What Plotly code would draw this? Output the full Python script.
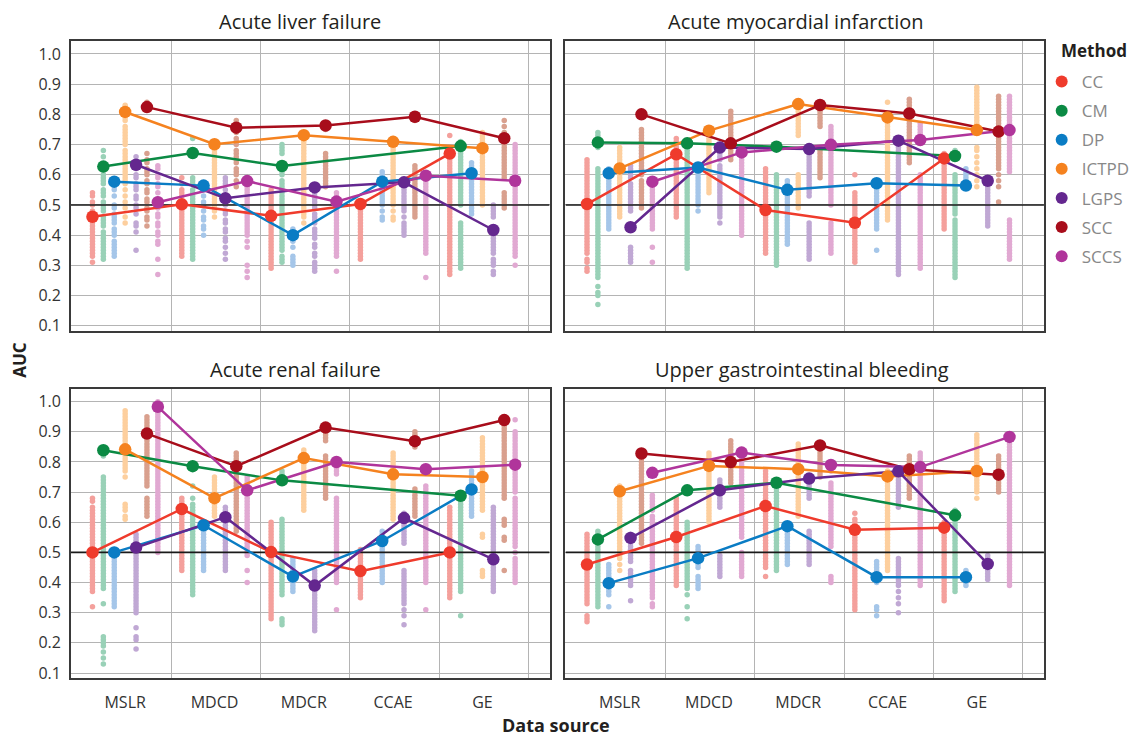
import plotly.graph_objects as go

# ---------------- data ----------------
sources = ["MSLR", "MDCD", "MDCR", "CCAE", "GE"]
methods = ["CC", "CM", "DP", "ICTPD", "LGPS", "SCC", "SCCS"]
panel_titles = ["Acute liver failure", "Acute myocardial infarction",
                "Acute renal failure", "Upper gastrointestinal bleeding"]
y_ticks = [0.1, 0.2, 0.3, 0.4, 0.5, 0.6, 0.7, 0.8, 0.9, 1.0]
y_tick_labels = ["0.1", "0.2", "0.3", "0.4", "0.5", "0.6", "0.7", "0.8", "0.9", "1.0"]

# best (large marker) AUC per method, per data source (None = not available)
best_alf = {
    "CC": [0.461, 0.502, 0.464, 0.503, 0.670],
    "CM": [0.627, 0.672, 0.629, None, 0.695],
    "DP": [0.577, 0.564, 0.400, 0.577, 0.605],
    "ICTPD": [0.808, 0.701, 0.731, 0.709, 0.688],
    "LGPS": [0.633, 0.522, 0.558, 0.575, 0.417],
    "SCC": [0.824, 0.756, 0.763, 0.792, 0.721],
    "SCCS": [0.509, 0.579, 0.511, 0.597, 0.580],
}
best_ami = {
    "CC": [0.503, 0.668, 0.483, 0.441, 0.654],
    "CM": [0.707, 0.704, 0.693, None, 0.662],
    "DP": [0.605, 0.624, 0.550, 0.572, 0.564],
    "ICTPD": [0.621, 0.746, 0.834, 0.790, 0.748],
    "LGPS": [0.426, 0.690, 0.685, 0.713, 0.580],
    "SCC": [0.800, 0.704, 0.831, 0.803, 0.743],
    "SCCS": [0.577, 0.674, 0.699, 0.715, 0.748],
}
best_arf = {
    "CC": [0.500, 0.644, 0.501, 0.438, 0.500],
    "CM": [0.839, 0.786, 0.739, None, 0.688],
    "DP": [0.500, 0.590, 0.420, 0.538, 0.709],
    "ICTPD": [0.842, 0.680, 0.813, 0.759, 0.750],
    "LGPS": [0.516, 0.617, 0.390, 0.614, 0.477],
    "SCC": [0.894, 0.786, 0.914, 0.869, 0.939],
    "SCCS": [0.983, 0.706, 0.800, 0.776, 0.791],
}
best_ugib = {
    "CC": [0.460, 0.551, 0.654, 0.575, 0.582],
    "CM": [0.543, 0.706, 0.731, None, 0.623],
    "DP": [0.398, 0.481, 0.587, 0.418, 0.418],
    "ICTPD": [0.703, 0.787, 0.776, 0.752, 0.770],
    "LGPS": [0.548, 0.706, 0.745, 0.769, 0.462],
    "SCC": [0.828, 0.800, 0.855, 0.776, 0.758],
    "SCCS": [0.764, 0.831, 0.790, 0.783, 0.883],
}

# individual analysis AUCs (x100), per method, one list per data source
dots_alf = {
    "CC": [[54,53,51,50,48,47,46,45,44,43,42,41,40,39,38,37,36,35,34,33,31],
           [59,57,55,54,53,51,50,49,48,47,46,45,44,43,42,41,40,39,38,37,36,35,34,33],
           [55,54,53,52,51,50,49,48,47,46,45,44,43,42,41,40,39,38,37,36,35,34,33,32,31,30,29],
           [50,49,48,47,46,45,44,43,42,41,40,39,38,37,36,35,34,33,32],
           [73,68,67,66,65,64,63,62,61,60,59,58,57,56,55,54,53,52,51,50,49,48,47,46,45,44,43,42,41,40,39,38,37,36,35,34,33,32,31,30,29,28,27]],
    "CM": [[68,66,63,62,60,59,58,57,55,54,53,51,50,49,48,46,45,44,43,41,40,39,38,37,36,35,34,33,32],
           [72,59,58,57,55,54,53,52,51,50,49,48,47,46,45,44,43,42,41,40,39,38,37,36,35,34,33,32],
           [70,69,68,67,61,60,58,57,56,55,54,53,52,51,50,49,48,47,46,45,44,43,42,41,40,39,38,37,36,35,33,32,31],
           [],
           [71,70,69,68,67,66,65,64,63,62,61,60,59,58,57,56,55,54,53,52,51,50,44,43,42,41,40,39,38,37,36,35,34,33,32,31,30,29]],
    "DP": [[58,57,56,55,53,50,49,47,46,45,44,42,41,40,38,37,36,35,34,33],
           [57,56,55,53,51,50,48,46,45,43,42,40],
           [42,41,40,39,38,36,33,32,31,30],
           [61,60,59,58,57,56,55,54,53,52,51,50,48,46,45],
           [64,63,62,61,60,59,58,57,56,55,54,53,52,51,50,49,48,47]],
    "ICTPD": [[83,82,80,79,78,76,75,74,73,72,71,70,68,67,66,65,64,63,62,61,60,59,58,57,55,53,51,49,46,44],
              [70,69,68,67,66,65,64,63,62,61,60,59,58,57,56,55,54,53,52,51,50,49,48,46],
              [74,73,72,71,70,69,68,67,66,65,64,63,62,61,60,59,58,57,56,55,54,53,52,51,50,49,48,47,46,44],
              [72,71,70,69,68,67,66,65,64,63,62,61,60,59,58,57,56,55,54,53,52,51,50,48,46,45],
              [74,73,72,71,70,69,68,67,66,65,64,63,62,61,60,59,58,57,56,55,54,53,52,51,50]],
    "LGPS": [[66,64,63,62,60,59,57,56,55,53,52,50,49,47,44,43,41,35],
             [59,58,57,55,53,52,51,50,48,47,45,44,42,41,39,38,36,34,32],
             [56,55,54,53,52,51,50,49,47,46,45,44,42,41,40,39,37,36,34,33,31,30,29,28],
             [58,57,56,55,54,53,52,51,50,49,48,46,44,43,42,41,40],
             [50,49,48,47,46,42,41,40,39,38,37,36,35,34,32,31,30,28,27]],
    "SCC": [[84,83,67,65,64,62,61,60,58,57,55,54,52,51,49,48,46,45,43],
            [78,77,74,72,71,70,68,67,66,65,64,62,61,60,58,56],
            [76,75,67,66,65,64,63,62,61,60,59,58,57,56],
            [80,79,78,63,62,61,60,59,58,57,56,55,54,53,52,51,50,49,48,47,46],
            [78,76,74,72,70,69,68,67,66,65,64,63,62,61,60,59,54,53,52,51,50,49]],
    "SCCS": [[63,62,60,59,57,56,54,52,50,49,47,46,44,43,41,40,38,37,32,27],
             [59,58,57,56,55,54,53,52,51,50,49,48,47,46,45,44,43,42,41,40,38,36,30,28,26],
             [54,53,52,51,50,49,48,47,46,45,44,43,42,41,40,39,38,37,36,35,34,33,28],
             [60,59,58,57,56,55,54,53,52,51,50,49,48,47,46,45,44,43,42,41,40,39,38,37,36,35,34,26],
             [70,69,68,67,66,65,64,63,62,61,60,59,58,57,56,55,54,53,52,51,50,49,48,47,46,45,44,43,42,41,40,39,38,37,36,35,34,33,30]],
}
dots_ami = {
    "CC": [[65,64,63,62,61,60,59,58,57,56,55,54,53,52,51,50,49,48,47,46,45,44,43,42,41,40,39,38,37,36,35,34,32,31,29,28],
           [72,71,70,69,68,67,66,65,64,63,62,61,60,59,58,57,56,55,54,53,52,51,50,49,48,47,46],
           [62,61,60,59,58,57,56,55,54,53,52,51,50,49,48,47,46,45,44,43,42,41,40,39,38,37,36,35,34],
           [60,54,53,52,51,50,49,48,47,46,45,44,43,42,41,40,39,38,37,36,35,34,33,32,31],
           [67,66,65,64,63,62,61,60,59,58,57,56,55,54,53,52,51,50,49,48,47,46,45,44,43,42]],
    "CM": [[74,73,71,70,69,62,61,60,59,58,57,56,55,54,53,52,51,50,49,48,47,46,45,44,43,42,41,40,39,38,37,36,35,34,33,32,31,30,29,28,27,26,23,21,20,17],
           [70,69,68,67,66,65,64,63,62,61,60,59,58,57,56,55,54,53,52,51,50,49,48,47,46,45,44,43,42,41,40,39,38,37,36,35,34,33,32,31,30,29],
           [60,59,58,57,56,55,54,53,52,51,50,49,48,47,46,45,44,43,42,41,40,39,38,37,36,35,34,33,32,31,30],
           [],
           [68,60,59,58,57,56,55,54,53,52,51,50,49,48,47,45,44,43,42,41,40,39,38,37,36,35,34,33,32,31,30,29,28,27,26]],
    "DP": [[62,61,60,59,58,57,56,55,54,53,52,51,50,49,48,47,46,45,44,43,42],
           [62,61,60,59,58,57,56,55,54,53,52,51,50,48],
           [58,57,56,55,54,53,52,51,50,49,48,47,46,45,44,43,42,41,40,39,38,37],
           [57,56,55,54,53,52,51,50,49,48,47,46,45,44,43,42,35],
           [62,61,60,59,58,57,56]],
    "ICTPD": [[69,68,67,66,65,64,63,62,61,60,59,58,57,56,55,54,53,52,51,50,49,48,47,46],
              [75,74,73,72,71,70,69,68,67,66,65,64,63,62,61,60,59,58,57,56,55,54],
              [83,82,81,80,79,78,77,76,75,74,73,60,59,58,57,56,55,54,53,52,51,50,49],
              [84,79,78,77,76,75,74,73,72,71,70,69,68,67,66,65,64,63,62,61,60,59,58,57,56,55,54,53,52,51,50,49,48,47,46,45],
              [89,88,87,86,85,84,83,82,81,80,79,78,77,76,75,69,68,66,64,62,60,58,56]],
    "LGPS": [[63,62,61,60,59,57,56,55,54,53,52,51,50,49,48,36,35,34,33,32,31],
             [69,68,67,66,65,63,62,61,60,59,58,57,56,55,54,53,52,51,50,49,48,47,46,44],
             [68,67,66,65,64,63,62,61,60,59,58,57,56,55,54,53,44,43,42,41,40,39,38,37,36,35,34,33,32],
             [71,70,69,68,67,66,65,64,63,62,61,60,59,58,57,56,55,54,53,52,51,50,49,48,47,46,45,44,43,42,41,40,39,38,37,36,35,34,33,32,31,30,29,28,27],
             [58,57,56,55,54,53,52,51,50,49,48,47,46,45,44,43]],
    "SCC": [[75,74,73,72,71,70,69,68,67,66,65,64,63,62,61,60,58,57,56,55,54,53,52,51,50,49],
            [81,80,79,78,77,76,75,74,73,72,71,70,69,68,67,66,65],
            [83,82,81,80,79,78,77,76,69,68,67,66,65,64,63,62,61,60,59],
            [85,84,83,82,81,80,79,78,77,76,75,74,73,72,71,70,69,68,67,66,65,64],
            [86,85,84,83,82,81,80,79,78,77,76,75,74,73,72,71,70,69,68,67,66,65,64,63,62,60,58,56,51]],
    "SCCS": [[58,57,56,55,54,53,52,51,50,49,48,47,46,45,44,43,42,36,31],
             [67,66,65,64,63,62,61,60,59,58,57,56,55,54,53,52,51,50,49,48,47,46,45,44,43,42,41,40],
             [76,75,74,73,72,71,70,69,68,67,66,65,64,63,62,61,60,59,58,57,56,55,54,53,52,51,50,44,43,42,41,40,39,38,37,36,35,34],
             [77,76,75,74,73,72,71,60,59,58,57,56,55,54,53,52,51,50,49,48,47,46,45,44,43,42,41,40,39,38,37,36,35,34,33,32,31,30,29],
             [86,85,84,83,82,81,80,79,78,77,76,75,74,73,72,71,70,69,68,67,66,65,64,63,62,61,45,44,43,42,41,40,39,38,37,36,35,34,33,32]],
}
dots_arf = {
    "CC": [[68,67,65,64,63,62,61,60,59,58,57,56,55,54,53,52,51,50,49,48,47,46,45,44,43,42,41,40,39,38,37,32],
           [68,67,66,65,64,63,62,61,60,59,58,57,56,55,54,53,52,51,50,49,48,47,46,45,44],
           [60,59,58,57,56,55,54,53,52,51,50,49,48,47,46,45,44,43,42,41,40,39,38,37,36,35,34,33,32,31,30,29,28],
           [51,50,49,48,47,46,45,44,43,42,41,40,39,38,37,36,35],
           [65,64,63,62,61,60,59,58,57,56,55,54,53,52,51,50,49,48,47,46,45,44,43,42,41,40,39,38,37,36,35]],
    "CM": [[84,83,82,75,74,73,72,71,70,69,68,67,66,65,64,63,62,61,60,59,58,57,56,55,54,53,52,51,50,49,48,47,46,45,44,43,42,41,40,39,38,33,22,21,20,19,17,15,13],
           [72,68,66,65,64,63,62,61,60,59,58,57,56,55,54,53,52,51,50,49,48,47,46,45,44,43,42,41,40,39,38,37,36],
           [77,76,75,74,73,61,60,59,58,57,56,55,54,53,52,51,50,49,48,47,46,45,44,43,42,41,40,39,38,37,36,28,27,26],
           [],
           [69,68,67,66,65,64,63,62,61,60,59,58,57,56,55,54,53,52,51,50,49,48,47,46,45,44,43,42,41,40,39,38,37,29]],
    "DP": [[51,50,49,48,47,46,45,44,43,42,41,40,39,38,37,36,35,34,33,32],
           [59,58,57,56,55,54,53,52,51,50,49,48,47,46,45,44],
           [48,47,46,45,44,43,42,41,40,39,38,37],
           [57,56,55,54,53,52,51,50,49,48,47,46,45,44,43,42,41,40],
           [77,76,75,74,73,72,71,70,69,68,67,66,65,64,63,62]],
    "ICTPD": [[97,96,95,94,93,92,91,90,89,88,87,86,85,84,83,82,81,80,79,78,77,75,66,65,64,62,61],
              [75,74,73,72,71,70,69,68,67,66,65,64,63,62],
              [84,83,82,81,80,79,78,77,76,75,74,73,72,71,70,69,68,67,66,65,64],
              [83,82,81,80,79,78,77,76,75,74,73,72,71,70,69,68,67,66,65,64,63,62,61],
              [88,87,86,85,84,83,82,81,80,79,78,77,76,75,74,73,72,71,70,69,68,67,66,65,64,56,55,44,43,42]],
    "LGPS": [[56,55,54,53,52,51,50,49,48,47,46,45,44,43,42,41,40,39,38,37,36,35,34,33,32,31,30,25,22,21,18],
             [65,64,63,62,61,60,59,58,57,56,55,54,53,52,51,50,49,48,47,46,45,44],
             [44,43,42,41,40,39,38,37,36,35,34,33,32,31,30,29,28,27,26,25,24],
             [63,62,61,60,59,58,57,56,55,54,53,44,43,42,41,40,39,38,37,36,35,34,33,31,29,26],
             [65,64,63,62,61,60,59,58,57,56,55,54,53,52,51,50,49,48,47,46,45,44,43,42,41,40,39,38,37]],
    "SCC": [[95,94,93,92,91,90,89,88,87,86,85,84,83,82,81,80,79,78,77,76,75,74,73,72,68,67,66,65,64,63,62],
            [83,82,81,80,79,78,77,76,75,74,73,72,71,70,69,68,67,66,65,64,63,62,61,60,59,58,57],
            [91,90,89,88,87,82,81,80,79,78,77,76,75,74,73,72,71,70,69,68],
            [90,89,88,87,86,85,71,70,69,68,67,66,65,64,63,62],
            [94,93,92,91,90,89,88,87,86,85,84,83,82,81,80,79,78,77,76,75,74,73,72,71,70,69,68,61,60,59,55,54,44]],
    "SCCS": [[100,99,98,97,96,95,94,93,92,91,90,89,88,87,86,85,84,83,82,81,80,79,78,77,76,75,74,73,72,71,70,69,68,67,66,65,64,63,62,61,60,59,58,57,56,55,54,53,52,51,50],
             [75,74,73,72,71,70,69,68,67,66,65,64,63,62,61,60,59,58,57,56,55,54,53,52,51,50,49,44,40],
             [80,79,78,77,76,68,67,66,65,64,63,62,61,60,59,58,57,56,55,54,53,52,51,50,49,48,47,46,45,44,43,42,41,40,31],
             [72,71,70,69,68,67,66,65,64,63,62,61,60,59,58,57,56,55,54,53,52,51,50,49,48,47,46,45,44,43,42,41,40,31],
             [94,90,89,88,87,86,85,84,83,82,81,80,79,78,77,76,75,74,73,72,71,70,68,67,66,65,64,63,62,61,60,59,58,57,56,55,54,53,52,50,48,47,46,45,44,43,42,41,40]],
}
dots_ugib = {
    "CC": [[56,55,54,53,52,51,50,49,48,47,46,45,44,43,42,41,40,39,38,37,36,35,34,33,29,28,27],
           [68,67,66,65,64,63,62,61,60,59,58,57,56,55,54,53,52,51,50,49,48,47,46,45,44,43,42,41,40,39],
           [77,76,75,74,73,72,71,70,69,68,67,66,65,64,63,62,61,60,59,58,57,56,55,54,53,52,51,50,49,48,47,46,45,42],
           [63,61,60,59,58,57,56,55,54,53,52,51,50,49,48,47,46,45,44,43,42,41,40,39,38,37,36,35,34,33,32,31],
           [60,59,58,57,56,55,54,53,52,51,50,49,48,47,46,45,44,43,42,41,40,39,38,37,36,35,34]],
    "CM": [[57,56,55,54,53,52,51,50,49,48,47,46,45,44,43,42,41,40,39,38,37,36,35,34,33,32],
           [60,59,58,57,56,55,54,53,52,51,50,49,48,47,46,45,44,43,42,41,40,39,38,36,32,28],
           [73,72,71,70,69,68,67,66,65,64,63,62,61,60,59,58,57,56,55,54,53,52,51,50,49,48,47,46,45,44],
           [],
           [64,63,62,61,60,59,58,57,56,55,54,53,52,51,50,49,48,47,46,45,44,43,42,41,40,39,38,37]],
    "DP": [[46,45,44,43,42,41,40,39,38,37,36,32],
           [52,51,50,49,48,47,46,45,42,41,40,39,38],
           [59,58,57,56,55,54,53,52,51,50,49,48,47,46],
           [47,46,45,44,43,42,41,40,32,31,29],
           [44,43,42,41,40,39]],
    "ICTPD": [[72,71,70,69,68,67,66,65,64,63,62,61,60,59,58,57,56,55,54,53,52,51,50,49,48,46,44],
              [83,82,81,80,79,78,77,76,75,74,73,72,71,70,69,68,67,66,65,64,63,62,61,60],
              [86,85,84,83,82,81,80,79,78,77,76,75,74,73,72,71,70,69,68,67,66,65,64,63,62],
              [77,76,75,74,73,72,71,70,69,68,67,66,65,64,63,62,61,60,59,58,57,56,55,54,53,52,51,50,49,48,47,46,45,44],
              [89,88,87,86,85,84,83,82,81,80,79,78,77,76,75,74,73,72,71,70,68]],
    "LGPS": [[56,55,54,53,52,51,50,49,48,47,44,43,42,41,40,39,34],
             [74,73,72,71,70,69,68,67,66,65,49,48,47,46,45,44,43,42],
             [74,73,72,71,70,69,68,57,56,55,54,53,52,51,50,49,48,47,46],
             [77,76,75,74,73,72,71,70,69,68,67,66,65,48,47,46,45,44,43,42,41,40,39,37,35,33,30],
             [49,48,47,46,45,44,43,42,41]],
    "SCC": [[83,82,81,80,79,78,77,76,75,74,73,72,71,70,69,68,67,66,65,64,63,62,61,60,59,58,57,56,55,54,53],
            [87,86,85,84,83,82,81,80,79,78,77,76,75,74,73],
            [86,85,84,83,82,81,80,79,78,77,76,75],
            [82,81,80,79,78,77,76,75,74,73,72,71,70,69,68],
            [82,81,80,79,78,77,76,75,74,73,72,71,70]],
    "SCCS": [[76,69,68,67,66,65,64,62,61,60,59,58,57,56,55,54,53,52,51,50,49,48,47,46,45,44,43,42,41,40,39,38,37,36,35,33,32],
             [83,82,81,80,79,78,77,76,75,74,73,72,71,70,69,68,67,66,65,64,63,62,61,60,59,58,57,56,55,50,49,48,47,46,45,44,43,42],
             [80,79,78,77,73,72,71,70,69,68,67,66,65,64,63,62,61,60,59,58,57,56,55,54,53,52,42,41,40],
             [83,82,81,80,79,78,77,76,75,74,73,72,71,70,69,68,67,66,65,64,63,62,61,60,59,58,57,56,55,54,53,52,51,50,49,48,47,46,45,44,43,42,41,40,39],
             [88,87,86,85,84,83,82,81,80,79,78,77,76,75,74,73,72,71,70,69,68,67,66,65,64,63,62,61,60,59,58,57,56,55,54,53,52,51,50,49,48,47,46,45,44,43,42,41,40,39]],
}

# ---------------- style ----------------
main_colors = {"CC": "#EF3B2C", "CM": "#0B8A44", "DP": "#0A7CC4", "ICTPD": "#F5821F",
               "LGPS": "#64278F", "SCC": "#A80D1B", "SCCS": "#B0359B"}
light_colors = {"CC": "#F4A09C", "CM": "#99D1B7", "DP": "#A5C6E9", "ICTPD": "#FDCF9E",
                "LGPS": "#C0A8D4", "SCC": "#D9A08E", "SCCS": "#E1A9D2"}
FONT = "Open Sans"
W, H = 1135, 738
# panel boxes in pixels: left, right, top, bottom
boxes = [(71.5, 554, 41.3, 331), (570, 1052.3, 41.3, 331),
         (71.5, 554, 389, 678.3), (570, 1052.3, 389, 678.3)]
XR = [-0.607, 4.752]
YR = [0.0825, 1.042]
DODGE = 0.122
title_centers = [302, 802, 298, 808]


def px(x):
    return x / W


def py(y):
    return 1 - y / H


panels = [(best_alf, dots_alf), (best_ami, dots_ami), (best_arf, dots_arf), (best_ugib, dots_ugib)]

fig = go.Figure()
for p, (best, dots) in enumerate(panels):
    xa = "x" if p == 0 else f"x{p+1}"
    ya = "y" if p == 0 else f"y{p+1}"
    # small dots
    for j, m in enumerate(methods):
        xs, ys = [], []
        for si, vals in enumerate(dots[m]):
            for v in vals:
                xs.append(si + (j - 3) * DODGE)
                ys.append(v / 100)
        fig.add_trace(go.Scatter(x=xs, y=ys, mode="markers", xaxis=xa, yaxis=ya,
                                 marker=dict(size=5.5, color=light_colors[m]),
                                 showlegend=False, hoverinfo="skip"))
    # reference line at 0.5
    fig.add_trace(go.Scatter(x=XR, y=[0.5, 0.5], mode="lines", xaxis=xa, yaxis=ya,
                             line=dict(color="#1a1a1a", width=1.6),
                             showlegend=False, hoverinfo="skip"))
    # best lines + markers
    for j, m in enumerate(methods):
        xs = [si + (j - 3) * DODGE for si, v in enumerate(best[m]) if v is not None]
        ys = [v for v in best[m] if v is not None]
        fig.add_trace(go.Scatter(x=xs, y=ys, mode="lines", xaxis=xa, yaxis=ya,
                                 line=dict(color=main_colors[m], width=2.5),
                                 showlegend=False, hoverinfo="skip"))
    for j, m in enumerate(methods):
        xs = [si + (j - 3) * DODGE for si, v in enumerate(best[m]) if v is not None]
        ys = [v for v in best[m] if v is not None]
        fig.add_trace(go.Scatter(x=xs, y=ys, mode="markers", xaxis=xa, yaxis=ya,
                                 marker=dict(size=12.5, color=main_colors[m]),
                                 name=m, legendgroup=m, showlegend=(p == 0)))

layout = dict(width=W, height=H, paper_bgcolor="white", plot_bgcolor="white",
              margin=dict(l=0, r=0, t=0, b=0), font=dict(family=FONT, color="#333"))
for p, (l, r, t, b) in enumerate(boxes):
    xk = "xaxis" if p == 0 else f"xaxis{p+1}"
    yk = "yaxis" if p == 0 else f"yaxis{p+1}"
    ya = "y" if p == 0 else f"y{p+1}"
    xa = "x" if p == 0 else f"x{p+1}"
    layout[xk] = dict(domain=[px(l), px(r)], range=XR, anchor=ya,
                      tickmode="array", tickvals=list(range(len(sources))), ticktext=sources,
                      showticklabels=(p >= 2), showgrid=False, zeroline=False,
                      ticks="outside", ticklen=9, tickcolor="rgba(0,0,0,0)",
                      tickfont=dict(size=16, color="#333", family=FONT),
                      minor=dict(tickmode="array", tickvals=[i + 0.515 for i in range(len(sources))],
                                 showgrid=True, gridcolor="#b4b4b4", gridwidth=1, ticks=""),
                      showline=True, mirror=True, linecolor="#3a3a3a", linewidth=1.5,
                      automargin=False, fixedrange=True)
    layout[yk] = dict(domain=[py(b), py(t)], range=YR, anchor=xa,
                      tickmode="array", tickvals=y_ticks, ticktext=y_tick_labels,
                      showticklabels=(p % 2 == 0), showgrid=True, gridcolor="#b4b4b4", gridwidth=1,
                      zeroline=False, ticks="outside", ticklen=5, tickcolor="rgba(0,0,0,0)",
                      tickfont=dict(size=16, color="#333", family=FONT),
                      showline=True, mirror=True, linecolor="#3a3a3a", linewidth=1.5,
                      automargin=False, fixedrange=True)

annotations = []
for p, (l, r, t, b) in enumerate(boxes):
    annotations.append(dict(text=panel_titles[p], x=px(title_centers[p]), y=py(t - 20),
                            xref="paper", yref="paper", xanchor="center", yanchor="middle",
                            showarrow=False, font=dict(size=20, color="#231f20", family=FONT)))
annotations.append(dict(text="<b>AUC</b>", x=px(19), y=py(360), xref="paper", yref="paper",
                        xanchor="center", yanchor="middle",
                        textangle=-90, showarrow=False, font=dict(size=17, color="#231f20", family=FONT)))
annotations.append(dict(text="<b>Data source</b>", x=px(560), y=py(725), xref="paper", yref="paper",
                        xanchor="center", yanchor="middle",
                        showarrow=False, font=dict(size=18, color="#231f20", family=FONT)))
annotations.append(dict(text="<b>Method</b>", x=px(1067), y=py(50), xref="paper", yref="paper",
                        xanchor="left", yanchor="middle",
                        showarrow=False, font=dict(size=17, color="#231f20", family=FONT)))
layout["annotations"] = annotations
layout["legend"] = dict(x=px(1050), y=py(64), xanchor="left", yanchor="top",
                        font=dict(size=17, color="#888888", family=FONT),
                        bgcolor="rgba(0,0,0,0)", itemsizing="constant", tracegroupgap=4)
fig.update_layout(**layout)
fig.write_html("out.html", config={"displayModeBar": False},
               post_script="document.body.style.margin='0';document.body.style.overflow='hidden';")
